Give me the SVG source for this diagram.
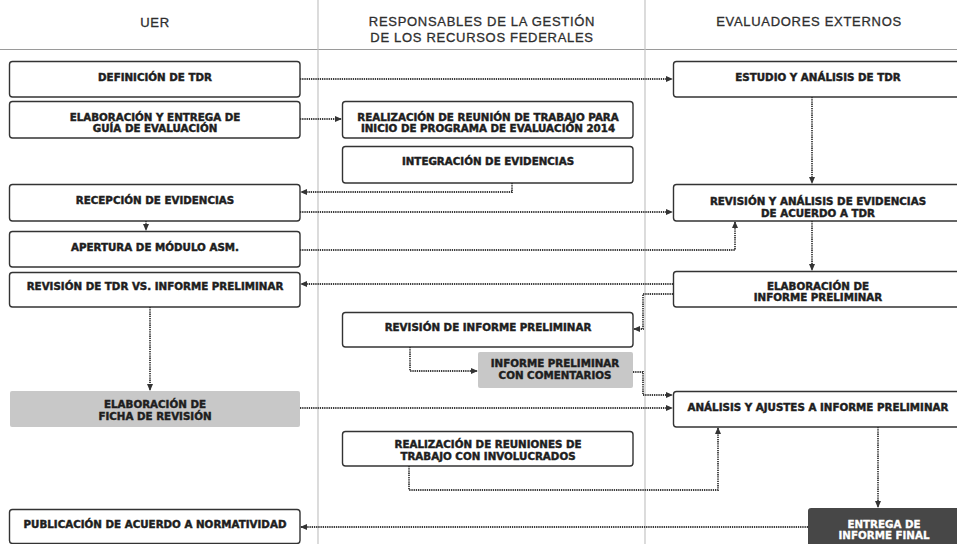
<svg xmlns="http://www.w3.org/2000/svg" width="957" height="544" viewBox="0 0 957 544">
<style>
.lane{stroke:#c4c4c4;stroke-width:1.2;fill:none}
.hdr{font-family:"Liberation Sans",Arial,sans-serif;font-size:13px;fill:#2e2e2e;stroke:#2e2e2e;stroke-width:0.3;letter-spacing:0.7px;text-anchor:middle}
.box{fill:#fff;stroke:#333;stroke-width:1.4}
.gray{fill:#c8c8c8;stroke:none}
.dark{fill:#474747;stroke:none}
.t{font-family:"DejaVu Sans","Liberation Sans",sans-serif;font-weight:bold;font-size:10.3px;fill:#1e1e1e;stroke:#1e1e1e;stroke-width:0.45;text-anchor:middle}
.w{fill:#fff;stroke:#fff;stroke-width:0.3}
.c{fill:none;stroke:#3a3a3a;stroke-width:1.8;stroke-dasharray:1.3 0.9}
</style>
<defs>
<marker id="ah" viewBox="0 0 8 8" refX="7" refY="4" markerWidth="7" markerHeight="7" markerUnits="userSpaceOnUse" orient="auto">
<path d="M0,0.5 L8,4 L0,7.5 Z" fill="#333"/>
</marker>
</defs>
<rect width="957" height="544" fill="#fff"/>
<g id="lanes">
<line class="lane" x1="0" y1="49.5" x2="957" y2="49.5" style="stroke:#9a9a9a"/>
<line class="lane" x1="318" y1="0" x2="318" y2="544"/>
<line class="lane" x1="645" y1="0" x2="645" y2="544"/>
<text class="hdr" x="155" y="26.5">UER</text>
<text class="hdr" x="482" y="26">RESPONSABLES DE LA GESTIÓN</text>
<text class="hdr" x="482" y="41.5">DE LOS RECURSOS FEDERALES</text>
<text class="hdr" x="809" y="26">EVALUADORES EXTERNOS</text>
</g>
<g id="connectors">
<path class="c" d="M300,79 H672" marker-end="url(#ah)"/>
<path class="c" d="M300,119 H341" marker-end="url(#ah)"/>
<path class="c" d="M812,97 V183" marker-end="url(#ah)"/>
<path class="c" d="M512,183 V192 H301" marker-end="url(#ah)"/>
<path class="c" d="M300,212 H672" marker-end="url(#ah)"/>
<path class="c" d="M146,221 V230" marker-end="url(#ah)"/>
<path class="c" d="M300,250 H735 V222" marker-end="url(#ah)"/>
<path class="c" d="M812,221 V270" marker-end="url(#ah)"/>
<path class="c" d="M673,284 H301" marker-end="url(#ah)"/>
<path class="c" d="M673,294 H643 V329 H634" marker-end="url(#ah)"/>
<path class="c" d="M150,307 V390" marker-end="url(#ah)"/>
<path class="c" d="M410,347 V371 H477" marker-end="url(#ah)"/>
<path class="c" d="M633,372 H643 V395 H672" marker-end="url(#ah)"/>
<path class="c" d="M300,408 H672" marker-end="url(#ah)"/>
<path class="c" d="M878,427 V507" marker-end="url(#ah)"/>
<path class="c" d="M409,466 V490 H718 V428" marker-end="url(#ah)"/>
<path class="c" d="M808,527 H301" marker-end="url(#ah)"/>
</g>
<g id="n_definicion"><rect class="box" x="9.5" y="61.5" width="290.5" height="35.5" rx="3"/><text class="t" x="155" y="81">DEFINICIÓN DE TDR</text></g>
<g id="n_guia"><rect class="box" x="9.5" y="101.5" width="290.5" height="36.5" rx="3"/><text class="t" x="155" y="120.5">ELABORACIÓN Y ENTREGA DE</text><text class="t" x="155" y="132">GUÍA DE EVALUACIÓN</text></g>
<g id="n_recepcion"><rect class="box" x="9.5" y="184.5" width="290.5" height="36.5" rx="3"/><text class="t" x="155" y="204">RECEPCIÓN DE EVIDENCIAS</text></g>
<g id="n_apertura"><rect class="box" x="9.5" y="231.5" width="290.5" height="35.5" rx="3"/><text class="t" x="155" y="250.5">APERTURA DE MÓDULO ASM.</text></g>
<g id="n_revtdr"><rect class="box" x="9.5" y="272.5" width="290.5" height="34.5" rx="3"/><text class="t" x="155" y="290">REVISIÓN DE TDR VS. INFORME PRELIMINAR</text></g>
<g id="n_ficha"><rect class="gray" x="10" y="391" width="290" height="36" rx="2"/><text class="t" x="155" y="408">ELABORACIÓN DE</text><text class="t" x="155" y="419.5">FICHA DE REVISIÓN</text></g>
<g id="n_publicacion"><rect class="box" x="9.5" y="509.5" width="290.5" height="34" rx="3"/><text class="t" x="155" y="528">PUBLICACIÓN DE ACUERDO A NORMATIVIDAD</text></g>
<g id="n_reunion"><rect class="box" x="342.5" y="101.5" width="290.5" height="36.5" rx="3"/><text class="t" x="488" y="120.5">REALIZACIÓN DE REUNIÓN DE TRABAJO PARA</text><text class="t" x="488" y="132">INICIO DE PROGRAMA DE EVALUACIÓN 2014</text></g>
<g id="n_integracion"><rect class="box" x="342.5" y="146.5" width="290.5" height="36.5" rx="3"/><text class="t" x="488" y="165">INTEGRACIÓN DE EVIDENCIAS</text></g>
<g id="n_revinforme"><rect class="box" x="342.5" y="312.5" width="290.5" height="34.5" rx="3"/><text class="t" x="488" y="330.5">REVISIÓN DE INFORME PRELIMINAR</text></g>
<g id="n_comentarios"><rect class="gray" x="478" y="352" width="155" height="36" rx="2"/><text class="t" x="555" y="366.5">INFORME PRELIMINAR</text><text class="t" x="555" y="379">CON COMENTARIOS</text></g>
<g id="n_reuniones"><rect class="box" x="342.5" y="431.5" width="290.5" height="34.5" rx="3"/><text class="t" x="488" y="448">REALIZACIÓN DE REUNIONES DE</text><text class="t" x="488" y="459.5">TRABAJO CON INVOLUCRADOS</text></g>
<g id="n_estudio"><rect class="box" x="673.5" y="61.5" width="291" height="35.5" rx="3"/><text class="t" x="818" y="81">ESTUDIO Y ANÁLISIS DE TDR</text></g>
<g id="n_revanalisis"><rect class="box" x="673.5" y="184.5" width="291" height="36.5" rx="3"/><text class="t" x="818" y="205">REVISIÓN Y ANÁLISIS DE EVIDENCIAS</text><text class="t" x="818" y="216.5">DE ACUERDO A TDR</text></g>
<g id="n_elabinforme"><rect class="box" x="673.5" y="271.5" width="291" height="35.5" rx="3"/><text class="t" x="818" y="289.5">ELABORACIÓN DE</text><text class="t" x="818" y="301">INFORME PRELIMINAR</text></g>
<g id="n_ajustes"><rect class="box" x="673.5" y="391.5" width="291" height="35.5" rx="3"/><text class="t" x="818" y="410.5">ANÁLISIS Y AJUSTES A INFORME PRELIMINAR</text></g>
<g id="n_entrega"><rect class="dark" x="808" y="508" width="155" height="40" rx="3"/><text class="t w" x="884" y="527.5">ENTREGA DE</text><text class="t w" x="884" y="539">INFORME FINAL</text></g>
</svg>
